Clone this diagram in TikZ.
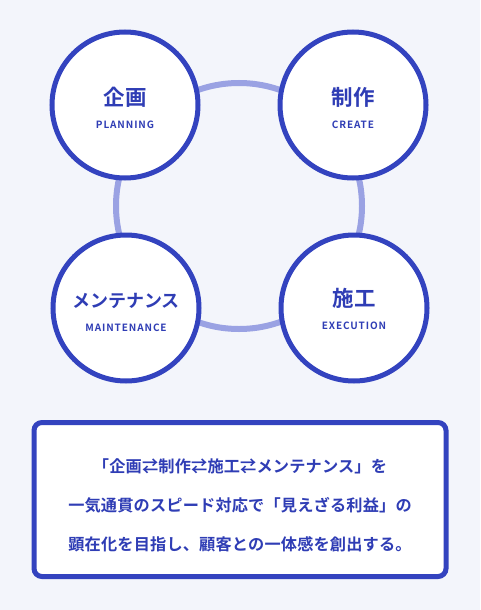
\documentclass[tikz,border=0pt]{standalone}
\usepackage{fontspec}
\newfontfamily\jp{Noto Sans CJK JP}[BoldFont={* Bold}]
\newfontfamily\lab{Noto Sans CJK JP}[BoldFont={* Bold},LetterSpace=9]
\newfontfamily\body{Noto Sans CJK JP}[BoldFont={* Bold},LetterSpace=1]
\definecolor{bg}{HTML}{F3F5FB}
\definecolor{mainblue}{HTML}{3343BF}
\definecolor{ringblue}{HTML}{9AA2E3}
\definecolor{txtblue}{HTML}{2F3DB5}
\tikzset{
  stage/.style={circle,draw=mainblue,line width=5pt,fill=white,minimum size=146pt,inner sep=0pt},
  title/.style={text=txtblue,font=\jp\bfseries,inner sep=0pt},
  sub/.style={text=txtblue,font=\lab\bfseries\fontsize{10}{10}\selectfont,inner sep=0pt},
}
\begin{document}
\begin{tikzpicture}[x=1pt,y=-1pt]
\fill[bg] (0,0) rectangle (480,610);
\useasboundingbox (0,0) rectangle (480,610);
\node[circle,draw=ringblue,line width=6pt,minimum size=246pt,inner sep=0pt] (ring) at (239,206) {};
\node[stage] (plan) at (125,105) {};
\node[stage] (create) at (353,105) {};
\node[stage] (maint) at (126,308) {};
\node[stage] (exec) at (354,308) {};
\node[title,font=\jp\bfseries\fontsize{21.5}{24}\selectfont] (t1) at (125,97) {企画};
\node[sub] (s1) at (125,125) {PLANNING};
\node[title,font=\jp\bfseries\fontsize{21.5}{24}\selectfont] (t2) at (353,97) {制作};
\node[sub] (s2) at (353,125) {CREATE};
\node[title,font=\jp\bfseries\fontsize{18}{22}\selectfont] (t3) at (126,301) {メンテナンス};
\node[sub] (s3) at (126,328) {MAINTENANCE};
\node[title,font=\jp\bfseries\fontsize{21.5}{24}\selectfont] (t4) at (354,298) {施工};
\node[sub] (s4) at (354,326) {EXECUTION};
\node[draw=mainblue,line width=5pt,fill=white,rounded corners=8pt,minimum width=412pt,minimum height=154pt,inner sep=0pt] (box) at (240,499.5) {};
\node[text=txtblue,font=\body\bfseries\fontsize{16.2}{39}\selectfont,align=center,inner sep=0pt] (msg) at (240,505) {「企画⇄制作⇄施工⇄メンテナンス」を\\一気通貫のスピード対応で「見えざる利益」の\\顕在化を目指し、顧客との一体感を創出する。};
\end{tikzpicture}
\end{document}
